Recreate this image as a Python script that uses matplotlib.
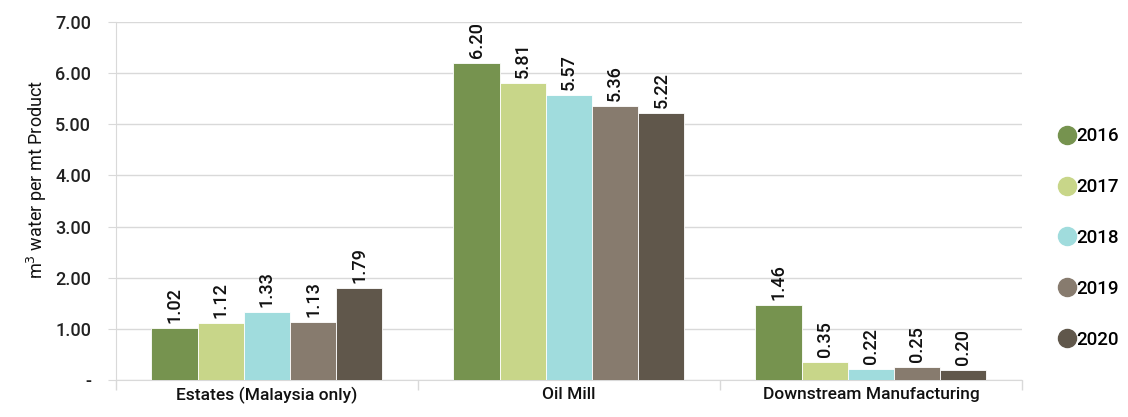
import numpy as np
import matplotlib
matplotlib.use("Agg")
import matplotlib.pyplot as plt
from matplotlib.lines import Line2D

plt.rcParams['font.family'] = ['Roboto', 'DejaVu Sans']
plt.rcParams['font.weight'] = 'medium'

# water intensity per business segment
categories = ["Estates (Malaysia only)", "Oil Mill", "Downstream Manufacturing"]
years = ["2016", "2017", "2018", "2019", "2020"]
values_2016 = [1.02, 6.20, 1.46]
values_2017 = [1.12, 5.81, 0.35]
values_2018 = [1.33, 5.57, 0.22]
values_2019 = [1.13, 5.36, 0.25]
values_2020 = [1.79, 5.22, 0.20]
series = [values_2016, values_2017, values_2018, values_2019, values_2020]
colors = ["#76934F", "#C8D689", "#A0DCDD", "#877B6E", "#60574B"]
y_ticks = [0, 1, 2, 3, 4, 5, 6, 7]
y_tick_labels = ["-", "1.00", "2.00", "3.00", "4.00", "5.00", "6.00", "7.00"]

fig = plt.figure(figsize=(11.28, 4.17), dpi=100)
ax = fig.add_axes([0.1028, 0.0887, 0.8032, 0.8583])

x = np.arange(len(categories))
bar_w = 0.153
for i, vals in enumerate(series):
    pos = x + (i - 2) * bar_w
    ax.bar(pos, vals, width=bar_w, color=colors[i], edgecolor="white", linewidth=0.6, zorder=3)
    for px, v in zip(pos, vals):
        ax.text(px, v + 0.1, f"{v:.2f}", rotation=90, ha="center", va="bottom",
                fontsize=13, color="#111111")

ax.set_xlim(-0.5, len(categories) - 0.5)
ax.set_ylim(0, 7)
ax.set_yticks(y_ticks)
ax.set_yticklabels(y_tick_labels, fontsize=13, color="#222222")
ax.yaxis.grid(True, color="#D9D9D9", linewidth=1, zorder=0)
ax.tick_params(axis="y", length=6, color="#D9D9D9", pad=12)

# category labels centred, tick marks on the group boundaries
ax.set_xticks(x)
ax.set_xticklabels(categories, fontsize=12.5, color="#111111")
ax.set_xticks(np.arange(-0.5, len(categories)), minor=True)
ax.tick_params(axis="x", which="major", length=0, pad=5)
ax.tick_params(axis="x", which="minor", length=7, color="#D9D9D9", width=1)

for side in ["top", "right"]:
    ax.spines[side].set_visible(False)
ax.spines["left"].set_color("#D9D9D9")
ax.spines["bottom"].set_color("#D9D9D9")

ax.set_ylabel("m$^3$ water per mt Product", fontsize=13, color="#111111")
ax.yaxis.set_label_coords(-0.074, 0.56)

handles = [Line2D([], [], marker="o", linestyle="", markersize=13,
                  markerfacecolor=c, markeredgecolor=c) for c in colors]
ax.legend(handles, years, loc="center left", bbox_to_anchor=(1.027, 0.397),
          frameon=False, fontsize=13.5, labelspacing=1.75, handletextpad=-0.1,
          handlelength=1.2, borderpad=0)

fig.savefig("out.png", dpi=100)
